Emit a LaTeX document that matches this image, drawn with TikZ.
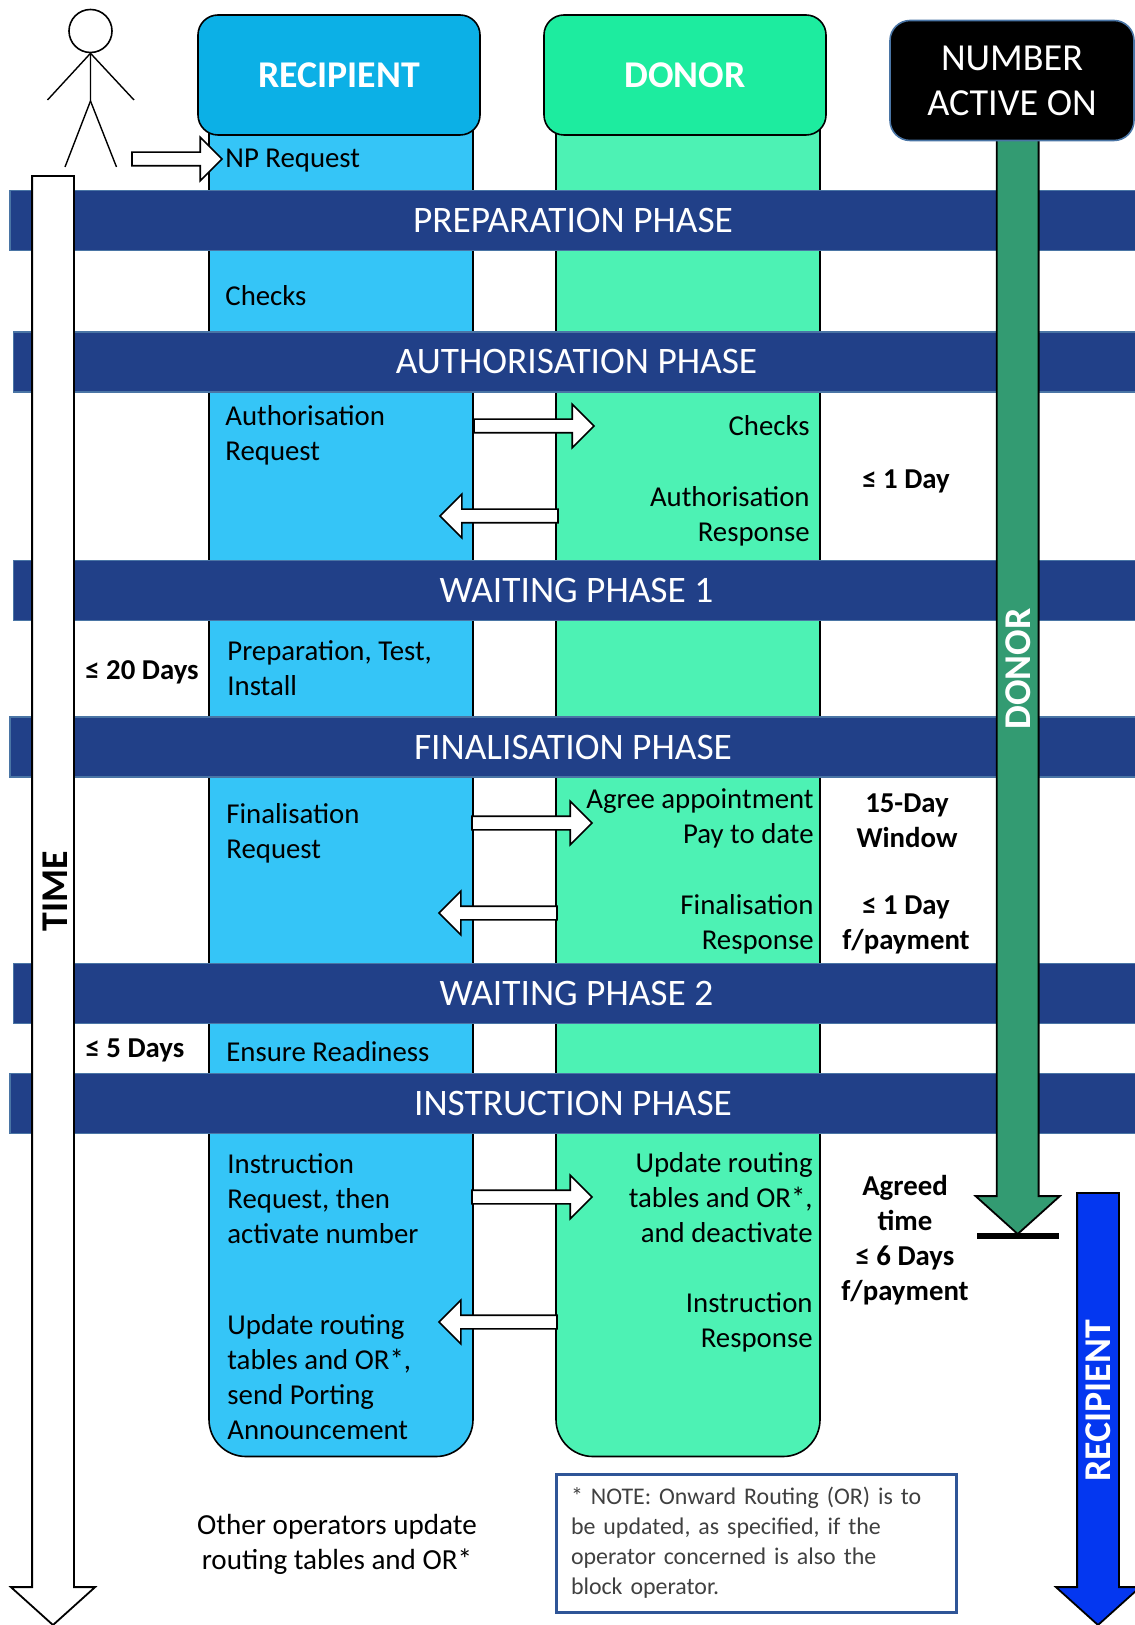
\documentclass[tikz,border=0pt]{standalone}
\usepackage{fontspec}
\setmainfont{Carlito}
\usepackage{xcolor}
\usetikzlibrary{positioning,arrows.meta,calc,shapes.arrows}
\definecolor{npblue}{RGB}{12,176,230}
\definecolor{nplightblue}{RGB}{53,197,247}
\definecolor{npgreen}{RGB}{29,236,159}
\definecolor{nplightgreen}{RGB}{77,242,180}
\definecolor{npband}{RGB}{33,64,136}
\definecolor{npedge}{RGB}{74,117,165}
\definecolor{npactive}{RGB}{51,155,114}
\definecolor{nprecip}{RGB}{4,55,240}
\definecolor{npnote}{RGB}{47,85,151}
\tikzset{
  lane/.style={draw, rounded corners=18.5pt, line width=0.8pt, inner sep=0pt, minimum width=132pt, minimum height=698.5pt},
  head/.style={draw, rounded corners=10pt, line width=0.8pt, text=white, align=center, inner sep=0pt, minimum width=141pt, minimum height=60pt, font=\fontsize{18.9}{22}\selectfont\bfseries},
  band/.style={draw=npedge, fill=npband, line width=0.6pt, text=white, inner sep=0pt, minimum width=563pt, minimum height=30pt, font=\fontsize{18.7}{22}\selectfont},
  lbl/.style={inner sep=0pt, anchor=west, align=left, font=\fontsize{14.4}{17.5}\selectfont},
  rlbl/.style={inner sep=0pt, anchor=east, align=right, font=\fontsize{14.4}{17.5}\selectfont},
  clbl/.style={inner sep=0pt, align=center, font=\fontsize{14.55}{17.5}\selectfont},
  days/.style={inner sep=0pt, align=center, font=\fontsize{14.4}{17.5}\selectfont\bfseries},
  flow/.style={draw, fill=white, single arrow, line width=0.8pt, inner xsep=0pt, inner ysep=3pt, outer sep=0pt, single arrow head extend=7.5pt, single arrow tip angle=90, minimum height=60pt},
  flowback/.style={flow, shape border rotate=180, minimum height=59pt},
  bigarrow/.style={draw, single arrow, shape border rotate=270, line width=0.9pt, inner sep=10pt, outer sep=0pt, single arrow head extend=10.6pt, single arrow tip angle=96, anchor=tail},
  vert/.style={rotate=90, inner sep=0pt, font=\fontsize{18.9}{22}\selectfont\bfseries},
  limb/.style={line width=0.7pt}
}
\begin{document}
\begin{tikzpicture}[x=0.5pt, y=-0.5pt]
    \useasboundingbox (0,0) rectangle (1134,1625);
    \node[lane, fill=nplightblue] (reclane) at (341,758) {};
    \node[lane, fill=nplightgreen] (donlane) at (688,758) {};
    \node[head, fill=npblue] (rechead) at (339,75) {RECIPIENT};
    \node[head, fill=npgreen] (donhead) at (685,75) {DONOR};

    \node[draw, circle, line width=0.8pt, minimum size=21.5pt, inner sep=0pt] (stickhead) at (90.5,31) {};
    \coordinate (hip) at (90.5,101);
    \coordinate (handl) at (47.5,100);
    \coordinate (handr) at (134,100);
    \coordinate (footl) at (65,167);
    \coordinate (footr) at (116.5,167);
    \draw[limb] (stickhead.south) -- (hip) -- (footl);
    \draw[limb] (hip) -- (footr);
    \draw[limb] (stickhead.south) -- (handl);
    \draw[limb] (stickhead.south) -- (handr);
    \node[flow, anchor=tail, minimum height=45pt] (nparrow) at (132,159) {};

    \node[band] (prep) at (573,220.5) {PREPARATION PHASE};
    \node[band] (auth) at (576.5,362) {AUTHORISATION PHASE};
    \node[band] (wait1) at (576.5,590.5) {WAITING PHASE 1};
    \node[band] (final) at (573,747) {FINALISATION PHASE};
    \node[band] (wait2) at (576.5,993.5) {WAITING PHASE 2};
    \node[band] (instr) at (573,1103.5) {INSTRUCTION PHASE};

    \node[bigarrow, fill=white, minimum height=724.5pt] (timearrow) at (53,176) {};
    \node[vert] (timelbl) at (55,891) {TIME};
    \node[bigarrow, fill=npactive, minimum height=547pt] (donarrow) at (1017.7,140) {};
    \node[vert, text=white] (donlbl) at (1018,669) {DONOR};
    \draw[line width=3.2pt] (977,1236) coordinate (barl) -- (1059,1236) coordinate (barr);
    \node[bigarrow, fill=nprecip, minimum height=216pt] (recarrow) at (1098,1193) {};
    \node[vert, text=white] (reclbl) at (1098,1401) {RECIPIENT};
    \node[draw=npedge, fill=black, rounded corners=10pt, line width=0.8pt, text=white, align=center, inner sep=0pt, minimum width=122pt, minimum height=60pt, font=\fontsize{19.1}{22.5}\selectfont] (active) at (1012,80.5) {NUMBER\\ACTIVE ON};

    \node[lbl] (npreq) at (225,161) {NP Request};
    \node[lbl] (recchk) at (225,295.5) {Checks};
    \node[lbl] (authreq) at (225,435) {Authorisation\\Request};
    \node[rlbl] (donchk) at (810,426) {Checks};
    \node[rlbl] (authresp) at (810,516) {Authorisation\\Response};
    \node[days] (d1a) at (906,481) {≤ 1 Day};
    \node[days] (d20) at (142,672) {≤ 20 Days};
    \node[lbl] (prepin) at (227,668.5) {Preparation, Test,\\Install};
    \node[lbl] (finreq) at (226,833.5) {Finalisation\\Request};
    \node[rlbl] (agree) at (814,818) {Agree appointment\\Pay to date};
    \node[days] (window) at (907,821) {15-Day\\Window};
    \node[rlbl] (finresp) at (814,924.5) {Finalisation\\Response};
    \node[days] (d1b) at (906,924.5) {≤ 1 Day\\f/payment};
    \node[days] (d5) at (135,1050) {≤ 5 Days};
    \node[lbl] (ready) at (226,1052) {Ensure Readiness};
    \node[lbl] (insreq) at (227,1199) {Instruction\\Request, then\\activate number};
    \node[rlbl] (insdon) at (813,1197.5) {Update routing\\tables and OR*,\\and deactivate};
    \node[rlbl] (insresp) at (813,1322.5) {Instruction\\Response};
    \node[days] (agreed) at (905,1240.5) {Agreed\\time\\≤ 6 Days\\f/payment};
    \node[lbl] (insrec) at (227,1377) {Update routing\\tables and OR*,\\send Porting\\Announcement};
    \node[clbl] (others) at (337,1544.5) {Other operators update\\routing tables and OR*};

    \node[flow, anchor=tail] (a1) at (474,426) {};
    \node[flowback, anchor=tail] (a2) at (558,516) {};
    \node[flow, anchor=tail] (a3) at (472,823) {};
    \node[flowback, anchor=tail] (a4) at (557,913) {};
    \node[flow, anchor=tail] (a5) at (472,1197) {};
    \node[flowback, anchor=tail] (a6) at (557,1322) {};

    \node[draw=npnote, line width=1.5pt, inner sep=0pt, text=black!75, text width=185pt, minimum width=200pt, minimum height=69pt, align=left, font=\fontsize{11.95}{15}\selectfont] (note) at (756,1543) {* NOTE: Onward Routing (OR) is to\\be updated, as specified, if the\\operator concerned is also the\\block operator.};
  \end{tikzpicture}
\end{document}
